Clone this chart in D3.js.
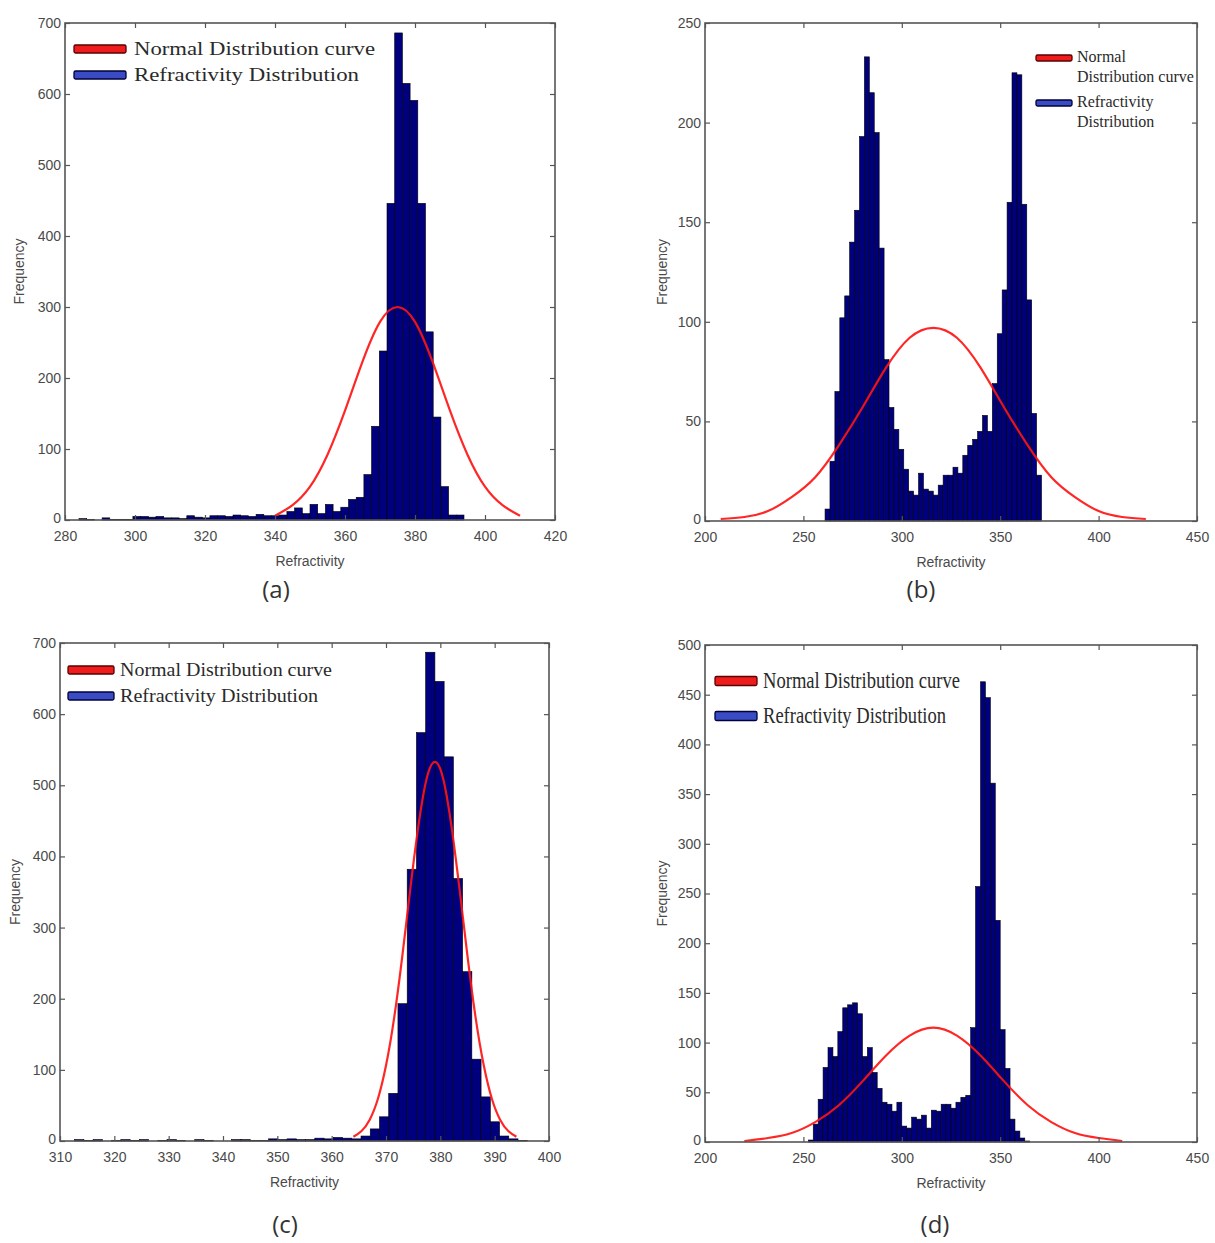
<!DOCTYPE html>
<html>
<head>
<meta charset="utf-8">
<script src="https://cdn.jsdelivr.net/npm/d3@7"></script>
<style>
  html, body { margin: 0; padding: 0; background: #fff; }
  svg { display: block; }
</style>
</head>
<body>
<svg id="chart" width="1215" height="1243"></svg>
<script>
// ---------------- DATA ----------------
// Panel (a)
const binStartA = 284.0, binWidthA = 2.2;
const countsA = [2,1,0,3,1,1,1,5,5,4,5,3,3,2,6,4,3,6,6,5,7,6,5,8,6,6,7,12,
                 17,9,22,9,22,12,18,29,32,
                 64,132,238,446,686,615,591,446,265,145,47,7,7];
const curveA = [[340,6],[345,21],[350,47],[355,92],[360,154],[365,223],[370,279],[375,300],
                [380,279],[385,223],[390,154],[395,92],[400,47],[405,21],[410,6]];
const xTicksA = [280,300,320,340,360,380,400,420];
const yTicksA = [0,100,200,300,400,500,600,700];

// Panel (b)
const binStartB = 261.0, binWidthB = 2.5;
const countsB = [6,30,65,102,113,140,156,193,233,215,195,137,81,57,46,36,26,15,13,24,16,15,13,18,
                 23,23,27,24,33,38,41,45,53,45,69,94,116,160,225,224,159,111,54,23];
const curveB = [[208,1],[220,2],[232,5],[244,12],[256,22],[268,38],[280,57],[292,77],[304,92],
                [316,97],[328,92],[340,77],[352,57],[364,38],[376,22],[388,12],[400,5],[412,2],[424,1]];
const xTicksB = [200,250,300,350,400,450];
const yTicksB = [0,50,100,150,200,250];

// Panel (c)
const binStartC = 312.7, binWidthC = 1.7;
const countsC = [2,1,2,0,1,2,1,2,0,1,2,1,0,2,1,0,0,2,2,1,1,3,2,3,2,2,4,3,5,4,3,
                 7,17,34,67,193,382,574,687,646,540,369,238,115,62,27,7,3,1];
const curveC = [[364,6],[365.5,14],[367,30],[368.5,59],[370,106],[371.5,173],[373,260],[374.5,356],
                [376,445],[377.5,510],[379,533],[380.5,510],[382,445],[383.5,356],[385,260],
                [386.5,173],[388,106],[389.5,59],[391,30],[392.5,14],[394,6]];
const xTicksC = [310,320,330,340,350,360,370,380,390,400];
const yTicksC = [0,100,200,300,400,500,600,700];

// Panel (d)
const binStartD = 252.5, binWidthD = 2.5;
const countsD = [2,18,43,75,95,86,111,135,138,140,129,86,95,70,54,40,38,31,40,16,14,25,23,27,
                 14,32,31,38,38,34,40,45,47,115,257,463,447,361,223,113,74,23,11,4,1];
const curveD = [[220,1],[232,4],[244,9],[256,20],[268,37],[280,61],[292,87],[304,107],
                [316,115],[328,107],[340,87],[352,61],[364,37],[376,20],[388,9],[400,4],[412,1]];
const xTicksD = [200,250,300,350,400,450];
const yTicksD = [0,50,100,150,200,250,300,350,400,450,500];

const legendLabels = ["Normal Distribution curve", "Refractivity Distribution"];
const legendLabelsWrapped = [["Normal", "Distribution curve"], ["Refractivity", "Distribution"]];
const panelLabels = ["(a)", "(b)", "(c)", "(d)"];
const xAxisTitle = "Refractivity";
const yAxisTitle = "Frequency";

// ---------------- LAYOUT ----------------
const panels = [
  { start: binStartA, width: binWidthA, counts: countsA, curve: curveA, xt: xTicksA, yt: yTicksA,
    box: [65, 23, 555, 520], label: panelLabels[0], labelPos: [276, 598], ylabX: 19,
    legend: { type: "line", sw: [74, 126], rows: [49, 75], tx: 134, tw: [241, 225], fs: 19, dy: 6 } },
  { start: binStartB, width: binWidthB, counts: countsB, curve: curveB, xt: xTicksB, yt: yTicksB,
    box: [705, 23, 1197, 521], label: panelLabels[1], labelPos: [921, 598], ylabX: 662,
    legend: { type: "wrap", sw: [1036, 1072], rows: [58, 103], tx: 1077, fs: 16 } },
  { start: binStartC, width: binWidthC, counts: countsC, curve: curveC, xt: xTicksC, yt: yTicksC,
    box: [60, 643, 549, 1141], label: panelLabels[2], labelPos: [285, 1233], ylabX: 15,
    legend: { type: "line", sw: [68, 114], rows: [670, 696], tx: 120, tw: [212, 198], fs: 19, dy: 6 } },
  { start: binStartD, width: binWidthD, counts: countsD, curve: curveD, xt: xTicksD, yt: yTicksD,
    box: [705, 645, 1197, 1142], label: panelLabels[3], labelPos: [935, 1233], ylabX: 662,
    legend: { type: "line", sw: [715, 757], rows: [681, 716], tx: 763, tw: [197, 183], fs: 23, dy: 7 } }
];

const svg = d3.select("#chart");
const tickFont = "'Liberation Sans Narrow', 'Arial Narrow', 'Liberation Sans', sans-serif";
const serifFont = "'Liberation Serif', 'Times New Roman', serif";
const axisColor = "#555";
const textColor = "#4a4a4a";

panels.forEach(p => {
  const [x0, y0, x1, y1] = p.box;
  const xDom = [p.xt[0], p.xt[p.xt.length - 1]];
  const yDom = [p.yt[0], p.yt[p.yt.length - 1]];
  const x = d3.scaleLinear().domain(xDom).range([x0, x1]);
  const y = d3.scaleLinear().domain(yDom).range([y1, y0]);
  const g = svg.append("g");

  // bars
  const bins = p.counts.map((c, i) => ({ a: p.start + i * p.width, b: p.start + (i + 1) * p.width, c }));
  g.append("g").selectAll("rect").data(bins.filter(d => d.c > 0)).join("rect")
    .attr("x", d => x(d.a))
    .attr("width", d => x(d.b) - x(d.a))
    .attr("y", d => y(d.c))
    .attr("height", d => y(0) - y(d.c))
    .attr("fill", "#00007e")
    .attr("stroke", "#000")
    .attr("stroke-width", 0.6);

  // normal curve
  const line = d3.line().x(d => x(d[0])).y(d => y(d[1])).curve(d3.curveNatural);
  g.append("path").datum(p.curve).attr("d", line)
    .attr("fill", "none").attr("stroke", "#ff1414").attr("stroke-width", 2.2)
    .attr("stroke-opacity", 0.92);

  // axes (ticks inside, mirrored)
  const styleAxis = sel => {
    sel.select(".domain").remove();
    sel.selectAll(".tick line").attr("stroke", axisColor).attr("stroke-width", 1.2);
    sel.selectAll(".tick text").attr("fill", textColor).style("font-family", tickFont).style("font-size", "14px");
  };
  g.append("g").attr("transform", `translate(0,${y1})`)
    .call(d3.axisBottom(x).tickValues(p.xt).tickSizeInner(-5).tickSizeOuter(0).tickPadding(11).tickFormat(d3.format("d")))
    .call(styleAxis);
  g.append("g").attr("transform", `translate(0,${y0})`)
    .call(d3.axisTop(x).tickValues(p.xt).tickSizeInner(-5).tickSizeOuter(0).tickFormat(""))
    .call(styleAxis);
  g.append("g").attr("transform", `translate(${x0},0)`)
    .call(d3.axisLeft(y).tickValues(p.yt).tickSizeInner(-5).tickSizeOuter(0).tickPadding(4).tickFormat(d3.format("d")))
    .call(styleAxis);
  g.append("g").attr("transform", `translate(${x1},0)`)
    .call(d3.axisRight(y).tickValues(p.yt).tickSizeInner(-5).tickSizeOuter(0).tickFormat(""))
    .call(styleAxis);
  // nudge the y-axis "0" label up a little so it does not collide with the first x label
  g.selectAll("text").filter(function () { return this.textContent === "0"; }).attr("dy", "0.15em");

  // box
  g.append("rect").attr("x", x0).attr("y", y0).attr("width", x1 - x0).attr("height", y1 - y0)
    .attr("fill", "none").attr("stroke", axisColor).attr("stroke-width", 1.6);

  // axis titles
  g.append("text").attr("x", (x0 + x1) / 2).attr("y", y1 + 46)
    .attr("text-anchor", "middle").attr("fill", textColor)
    .style("font-family", tickFont).style("font-size", "14px").text(xAxisTitle);
  g.append("text").attr("transform", `translate(${p.ylabX},${(y0 + y1) / 2}) rotate(-90)`)
    .attr("text-anchor", "middle").attr("dy", "0.35em").attr("fill", textColor)
    .style("font-family", tickFont).style("font-size", "14px").text(yAxisTitle);

  // panel label
  g.append("text").attr("x", p.labelPos[0]).attr("y", p.labelPos[1])
    .attr("text-anchor", "middle").attr("fill", "#333")
    .style("font-family", "'Open Sans', 'DejaVu Sans', sans-serif").style("font-size", "24px").text(p.label);

  // legend
  const L = p.legend;
  const swColors = [["#ee1c1c", "#5a0000"], ["#3a4cc4", "#00003a"]];
  const swH = L.type === "wrap" ? 6 : (L.fs > 20 ? 9 : 8);
  L.rows.forEach((ry, i) => {
    g.append("rect").attr("x", L.sw[0]).attr("y", ry - swH / 2)
      .attr("width", L.sw[1] - L.sw[0]).attr("height", swH).attr("rx", 1.5)
      .attr("fill", swColors[i][0]).attr("stroke", swColors[i][1]).attr("stroke-width", 1.3);
    if (L.type === "line") {
      g.append("text").attr("x", L.tx).attr("y", ry + L.dy)
        .attr("textLength", L.tw[i]).attr("lengthAdjust", "spacingAndGlyphs")
        .attr("fill", "#2a2a2a").style("font-family", serifFont).style("font-size", L.fs + "px")
        .text(legendLabels[i]);
    } else {
      const lines = legendLabelsWrapped[i];
      lines.forEach((t, j) => {
        g.append("text").attr("x", L.tx).attr("y", ry + 4 + j * 20)
          .attr("fill", "#2a2a2a").style("font-family", serifFont).style("font-size", L.fs + "px")
          .text(t);
      });
    }
  });
});
</script>
</body>
</html>
